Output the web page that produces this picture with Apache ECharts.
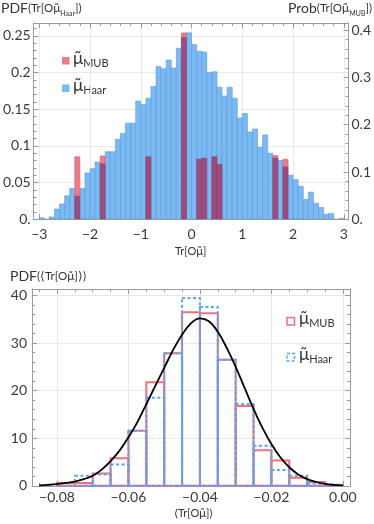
<!DOCTYPE html>
<html><head><meta charset="utf-8">
<script src="https://cdn.jsdelivr.net/npm/echarts@6/dist/echarts.min.js"></script>
<style>html,body{margin:0;padding:0;background:#fff}#c{width:374px;height:524px}</style>
</head><body><div id="c"></div>
<script>
// ---------- top panel data ----------
const haarBins = [-3.0,-2.9,-2.8,-2.7,-2.6,-2.5,-2.4,-2.3,-2.2,-2.1,-2.0,-1.9,-1.8,-1.7,-1.6,-1.5,-1.4,-1.3,-1.2,-1.1,-1.0,-0.9,-0.8,-0.7,-0.6,-0.5,-0.4,-0.3,-0.2,-0.1,
  0.0,0.1,0.2,0.3,0.4,0.5,0.6,0.7,0.8,0.9,1.0,1.1,1.2,1.3,1.4,1.5,1.6,1.7,1.8,1.9,2.0,2.1,2.2,2.3,2.4,2.5,2.6,2.7,2.8,2.9];
const haarValues = [0.002,0.0,0.003,0.014,0.021,0.032,0.042,0.032,0.042,0.063,0.069,0.078,0.076,0.092,0.092,0.109,0.117,0.131,0.131,0.161,0.156,0.165,0.181,0.208,0.205,0.217,0.206,0.233,0.248,0.254,
  0.238,0.229,0.228,0.200,0.201,0.180,0.168,0.180,0.165,0.138,0.144,0.119,0.123,0.098,0.115,0.090,0.084,0.080,0.072,0.060,0.054,0.045,0.027,0.037,0.022,0.016,0.007,0.008,0.0,0.001];
const mubBins = [-2.3,-1.8,-0.9,-0.2,0.1,0.2,0.4,0.5,1.6,1.8];
const mubValues = [0.132,0.134,0.132,0.394,0.127,0.129,0.132,0.116,0.135,0.127];
const topBinWidth = 0.1;

// ---------- bottom panel data ----------
const meanBins = [-0.08,-0.075,-0.07,-0.065,-0.06,-0.055,-0.05,-0.045,-0.04,-0.035,-0.03,-0.025,-0.02,-0.015,-0.01,-0.005];
const meanMub  = [0.6,0.6,2.6,5.8,11.6,21.8,27.9,36.5,36.3,26.5,16.8,7.5,5.3,1.7,0.8,0];
const meanHaar = [0,2.1,2.4,4.5,11.6,18.5,27.9,39.5,37.6,26.5,17.2,8.4,3.3,2.1,0.5,0.2];
const bottomBinWidth = 0.005;
const curveX = [-0.085,-0.0825,-0.08,-0.0775,-0.075,-0.0725,-0.07,-0.0675,-0.065,-0.0625,-0.06,-0.0575,-0.055,-0.0525,-0.05,-0.0475,-0.045,-0.0425,-0.04,-0.0375,-0.035,-0.0325,-0.03,-0.0275,-0.025,-0.0225,-0.02,-0.0175,-0.015,-0.0125,-0.01,-0.0075,-0.005,-0.0025,0];
const curveY = [0.1,0.2,0.35,0.6,0.9,1.4,2.1,3.4,5.2,7.4,10.2,13.4,17.2,21.0,24.8,28.6,31.8,34.2,35.2,34.6,32.4,29.0,25.0,20.6,16.2,12.2,8.8,6.0,3.9,2.4,1.4,0.8,0.4,0.2,0.1];

// axis extents (layout)
const topX = [-3.11, 3.09], topYL = [0, 0.2674], topYR = [0, 0.415];
const botX = [-0.087, 0.002], botY = [0, 41.4];

const FONT = 'Lato';
const frame = '#9a9a9a', gridC = '#e9e9e9', labC = '#3a3a3a';
const HAAR_FILL = '#7ab9f1', HAAR_EDGE = '#5b9bd8';
const MUB_FILL = '#ec7a8a', MIX_FILL = '#9c4c7e';
const RED = '#f07080', BLUE = '#58a6f2';

function isMult(v, step){ const r = v/step; return Math.abs(r-Math.round(r)) < 1e-6; }
function fmtTopY(v){ if(!isMult(v,0.05)) return ''; return v===0?'0.':String(+v.toFixed(2)); }
function fmtTopYR(v){ if(!isMult(v,0.1)) return ''; return v===0?'0.':String(+v.toFixed(1)); }
function fmtTopX(v){ if(!isMult(v,1)) return ''; const n=Math.round(v); return n<0?'\u2212'+(-n):String(n); }
function fmtBotX(v){ if(!isMult(v,0.02)) return ''; return v<0?'\u2212'+(-v).toFixed(2):'0.00'; }
function fmtBotY(v){ if(!isMult(v,10)) return ''; return String(Math.round(v)); }

const tick = {show:true, inside:true, length:5, lineStyle:{color:frame}};
const minor = (n)=>({show:true, splitNumber:n, length:3, lineStyle:{color:frame}});
const line = {show:true, onZero:false, lineStyle:{color:frame, width:1}};
const lab = (f, m)=>({show:true, formatter:f, color:labC, fontFamily:FONT, fontSize:14, margin:m});

const chart = echarts.init(document.getElementById('c'), null, {renderer:'canvas'});

function renderHaar(params, api){
  const x0 = api.value(0), h = api.value(1);
  const p0 = api.coord([x0, h]), p1 = api.coord([x0+topBinWidth, 0]);
  return {type:'rect', shape:{x:p0[0], y:p0[1], width:p1[0]-p0[0], height:p1[1]-p0[1]},
    style:{fill:HAAR_FILL, stroke:HAAR_EDGE, lineWidth:0.6}};
}
function renderMub(params, api){
  const x0 = api.value(0), v = api.value(1), hh = api.value(2) * topYR[1] / topYL[1];
  const pv = api.coord([x0, v]), ph = api.coord([x0, hh]), pb = api.coord([x0+topBinWidth, 0]);
  const w = pb[0]-pv[0];
  const children = [];
  const ov = Math.max(pv[1], ph[1]);
  children.push({type:'rect', shape:{x:pv[0], y:ov, width:w, height:pb[1]-ov}, style:{fill:MIX_FILL, stroke:'#874070', lineWidth:0.6}});
  if (pv[1] < ph[1]) children.push({type:'rect', shape:{x:pv[0], y:pv[1], width:w, height:ph[1]-pv[1]}, style:{fill:MUB_FILL, stroke:'#d86070', lineWidth:0.6}});
  return {type:'group', children};
}
function makeOutline(color, dash){
  return function(params, api){
    const x0 = api.value(0), h = api.value(1);
    const p0 = api.coord([x0, h]), p1 = api.coord([x0+bottomBinWidth, 0]);
    return {type:'rect', shape:{x:p0[0], y:p0[1], width:p1[0]-p0[0], height:p1[1]-p0[1]},
      style:{fill:null, stroke:color, lineWidth:2, lineDash:dash}};
  };
}

const mubData = mubBins.map((b,i)=>[b, mubValues[i], haarValues[haarBins.findIndex(x=>Math.abs(x-b)<1e-9)]]);

const sub = (fs, lh)=>({fontSize:fs, fontFamily:FONT, fill:'#333', lineHeight:lh, verticalAlign:'bottom'});
const main = (fs, lh)=>({fontSize:fs, fontFamily:FONT, fill:'#333', lineHeight:lh, verticalAlign:'middle'});

chart.setOption({
  animation:false,
  grid:[
    {left:32.5, top:23, width:316.5, height:196.3, show:false},
    {left:32, top:289, width:318, height:196.8, show:false}
  ],
  xAxis:[
    {gridIndex:0, type:'value', min:topX[0], max:topX[1], splitNumber:6, position:'bottom',
      axisLine:line, axisTick:tick, minorTick:minor(5), axisLabel:lab(fmtTopX,8),
      splitLine:{show:true, lineStyle:{color:gridC}}},
    {gridIndex:0, type:'value', min:topX[0], max:topX[1], splitNumber:6, position:'top',
      axisLine:line, axisTick:tick, minorTick:minor(5), axisLabel:{show:false}, splitLine:{show:false}},
    {gridIndex:1, type:'value', min:botX[0], max:botX[1], splitNumber:4, position:'bottom',
      axisLine:line, axisTick:tick, minorTick:minor(4), axisLabel:lab(fmtBotX,5),
      splitLine:{show:true, lineStyle:{color:gridC}}},
    {gridIndex:1, type:'value', min:botX[0], max:botX[1], splitNumber:4, position:'top',
      axisLine:line, axisTick:tick, minorTick:minor(4), axisLabel:{show:false}, splitLine:{show:false}}
  ],
  yAxis:[
    {gridIndex:0, type:'value', min:topYL[0], max:topYL[1], splitNumber:5, position:'left',
      axisLine:line, axisTick:tick, minorTick:minor(5), axisLabel:lab(fmtTopY,3),
      splitLine:{show:true, lineStyle:{color:gridC}}},
    {gridIndex:0, type:'value', min:topYR[0], max:topYR[1], splitNumber:4, position:'right',
      axisLine:line, axisTick:tick, minorTick:minor(5), axisLabel:lab(fmtTopYR,3), splitLine:{show:false}},
    {gridIndex:1, type:'value', min:botY[0], max:botY[1], splitNumber:4, position:'left',
      axisLine:line, axisTick:tick, minorTick:minor(5), axisLabel:lab(fmtBotY,5),
      splitLine:{show:true, lineStyle:{color:gridC}}},
    {gridIndex:1, type:'value', min:botY[0], max:botY[1], splitNumber:4, position:'right',
      axisLine:line, axisTick:tick, minorTick:minor(5), axisLabel:{show:false}, splitLine:{show:false}}
  ],
  series:[
    {type:'custom', xAxisIndex:0, yAxisIndex:0, renderItem:renderHaar, clip:true,
      data:haarBins.map((b,i)=>[b, haarValues[i]]), z:2},
    {type:'custom', xAxisIndex:0, yAxisIndex:1, renderItem:renderMub, clip:true, data:mubData, z:3},
    {type:'custom', xAxisIndex:2, yAxisIndex:2, renderItem:makeOutline(RED, null), clip:false,
      data:meanBins.map((b,i)=>[b, meanMub[i]]), z:2},
    {type:'custom', xAxisIndex:2, yAxisIndex:2, renderItem:makeOutline(BLUE, [3,2.5]), clip:false,
      data:meanBins.map((b,i)=>[b, meanHaar[i]]), z:3},
    {type:'line', xAxisIndex:2, yAxisIndex:2, smooth:0.4, showSymbol:false, z:4,
      lineStyle:{color:'#000', width:1.8}, data:curveX.map((x,i)=>[x, curveY[i]])}
  ],
  graphic:[
    {type:'text', left:1, top:1, style:{text:'{a|PDF}{b|(Tr[O}{c|\u03bc\u0303}{d|Haar}{b|])}',
      rich:{a:main(14,18), b:main(11.5,18), c:main(12,18), d:sub(7,16)}}},
    {type:'text', right:2, top:1, style:{text:'{a|Prob}{b|(Tr[O}{c|\u03bc\u0303}{d|MUB}{b|])}',
      rich:{a:main(14,18), b:main(11.5,18), c:main(12,18), d:sub(7,16)}}},
    {type:'text', left:10, top:269, style:{text:'{a|PDF}{b|(\u27e8Tr[O}{c|\u03bc\u0303}{b|]\u27e9)}',
      rich:{a:main(14,18), b:main(11.5,18), c:main(12,18)}}},
    {type:'text', left:175, top:245, style:{text:'{b|Tr[O}{c|\u03bc\u0303}{b|]}', rich:{b:main(11,16), c:main(11.5,16)}}},
    {type:'text', left:174, top:507, style:{text:'{b|\u27e8Tr[O}{c|\u03bc\u0303}{b|]\u27e9}', rich:{b:main(11,16), c:main(11.5,16)}}},
    // top legend
    {type:'rect', shape:{x:62, y:57, width:7.5, height:7.5}, style:{fill:MUB_FILL}},
    {type:'text', left:73, top:50, style:{text:'{c|\u03bc\u0303}{d|MUB}', rich:{c:main(17,20), d:sub(11,18)}}},
    {type:'rect', shape:{x:62, y:84.5, width:7.5, height:7.5}, style:{fill:HAAR_FILL}},
    {type:'text', left:73, top:77, style:{text:'{c|\u03bc\u0303}{d|Haar}', rich:{c:main(17,20), d:sub(11,18)}}},
    // bottom legend
    {type:'rect', shape:{x:287, y:317.5, width:7.5, height:7.5}, style:{fill:null, stroke:RED, lineWidth:1.5}},
    {type:'text', left:299, top:310, style:{text:'{c|\u03bc\u0303}{d|MUB}', rich:{c:main(17,20), d:sub(11,18)}}},
    {type:'rect', shape:{x:287, y:353.5, width:7.5, height:7.5}, style:{fill:null, stroke:BLUE, lineWidth:1.5, lineDash:[3,2]}},
    {type:'text', left:299, top:346, style:{text:'{c|\u03bc\u0303}{d|Haar}', rich:{c:main(17,20), d:sub(11,18)}}}
  ]
});
</script></body></html>
